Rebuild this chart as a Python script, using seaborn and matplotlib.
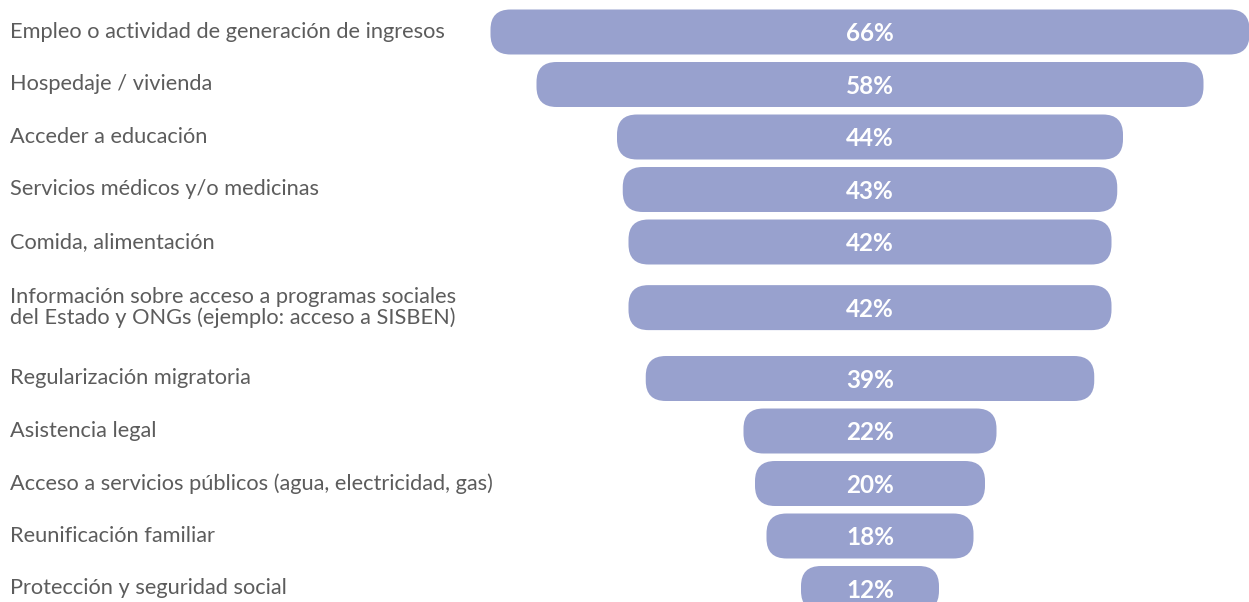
import seaborn as sns
import matplotlib.pyplot as plt
import pandas as pd
from matplotlib.patches import FancyBboxPatch

categories = [
    'Empleo o actividad de generación de ingresos',
    'Hospedaje / vivienda',
    'Acceder a educación',
    'Servicios médicos y/o medicinas',
    'Comida, alimentación',
    'Información sobre acceso a programas sociales\ndel Estado y ONGs (ejemplo: acceso a SISBEN)',
    'Regularización migratoria',
    'Asistencia legal',
    'Acceso a servicios públicos (agua, electricidad, gas)',
    'Reunificación familiar',
    'Protección y seguridad social',
]
values = [66, 58, 44, 43, 42, 42, 39, 22, 20, 18, 12]

# row positions (the two-line label gets a bit more room)
rows = [0, 1, 2, 3, 4, 5.25, 6.6, 7.6, 8.6, 9.6, 10.6]

bar_color = '#98a1ce'
px_per_pct = 11.5
px_per_row = 52.5

df = pd.DataFrame({'cat': categories, 'value': values, 'row': rows})

sns.set_style('white')
plt.rcParams['font.family'] = ['Lato', 'DejaVu Sans']

fig = plt.figure(figsize=(12.49, 6.02), dpi=100)
ax = fig.add_axes([0, 0, 1, 1])

sns.barplot(data=df, x='value', y='row', orient='h', native_scale=True,
            width=0.857, color=bar_color, ax=ax)

# turn the plain bars into centred rounded bars
aspect = px_per_pct / px_per_row
r = 20 / px_per_pct
for p in list(ax.patches):
    w, y0, h = p.get_width(), p.get_y(), p.get_height()
    p.remove()
    ax.add_patch(FancyBboxPatch((-w / 2, y0), w, h,
                                boxstyle=f'round,pad=0,rounding_size={r}',
                                mutation_aspect=aspect,
                                facecolor=bar_color, edgecolor='none'))

for cat, v, y in zip(categories, values, rows):
    ax.text(0, y + 0.03, f'{v}%', ha='center', va='center', color='white',
            fontsize=17.5, fontweight='bold')
    ax.text(0.008, y, cat, transform=ax.get_yaxis_transform(),
            ha='left', va='center', color='#5c5c5c', fontsize=15.7,
            fontweight='normal', linespacing=1.05)

center_px = 870
ax.set_xlim(-center_px / px_per_pct, (1249 - center_px) / px_per_pct)
ax.set_ylim((602 - 32) / px_per_row, -32 / px_per_row)
ax.axis('off')

fig.savefig('out.png', dpi=100)
